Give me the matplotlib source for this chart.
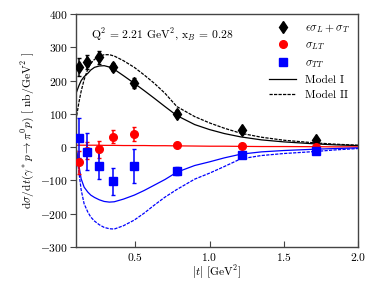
import matplotlib
matplotlib.use("Agg")
import matplotlib.pyplot as plt
from matplotlib.lines import Line2D

plt.rcParams['font.family'] = 'serif'
plt.rcParams['font.serif'] = ['cmr10']
plt.rcParams['mathtext.fontset'] = 'cm'
plt.rcParams['axes.formatter.use_mathtext'] = True
plt.rcParams['axes.unicode_minus'] = True

# data points
t_data = [0.123, 0.173, 0.253, 0.352, 0.491, 0.782, 1.22, 1.72]
sig_ul = [242, 256, 270, 242, 192, 101, 51, 21]
sig_ul_err = [27, 20, 20, 12, 15, 10, 10, 8]
sig_lt = [-45, -10, -6, 32, 40, 7, 5, 2]
sig_lt_err = [35, 25, 25, 19, 22, 3, 3, 3]
sig_tt = [29, -13, -55, -103, -57, -71, -24, -11]
sig_tt_err = [60, 55, 40, 40, 52, 12, 5, 5]

# model curves
t_curve = [0.105, 0.12, 0.135, 0.155, 0.18, 0.20, 0.225, 0.257, 0.29, 0.325, 0.358, 0.42, 0.493,
           0.56, 0.628, 0.70, 0.78, 0.90, 1.0, 1.1, 1.21, 1.35, 1.5, 1.71, 1.85, 2.0]
m1_ul = [167, 185, 200, 212, 222, 232, 240, 244, 245, 241, 234, 215, 192,
         170, 147, 122, 95, 68, 53, 41, 31, 22, 16, 10, 7, 5]
m2_ul = [95, 135, 168, 203, 235, 252, 264, 273, 278, 278, 274, 260, 240,
         217, 192, 162, 122, 92, 73, 57, 42, 30, 21, 13, 9, 6]
m1_lt = [6, 6, 6, 6, 6, 6, 6, 6, 5.5, 5.5, 5.5, 5, 5,
         5, 4.5, 4.5, 4, 3.5, 3, 3, 2.5, 2, 2, 1.5, 1, 1]
m1_tt = [-10, -55, -95, -120, -135, -144, -151, -158, -163, -165, -164, -156, -144,
         -130, -114, -97, -75, -55, -44, -32, -21, -14, -10, -6, -4, -2]
m2_tt = [-15, -75, -128, -170, -195, -210, -222, -233, -241, -245, -246, -236, -219,
         -198, -174, -150, -127, -96, -78, -58, -35, -25, -19, -13, -8, -4]

labels = [r'$\epsilon\sigma_L+\sigma_T$', r'$\sigma_{LT}$', r'$\sigma_{TT}$', 'Model I', 'Model II']

fs = 8.3
fig = plt.figure(figsize=(3.76, 2.82), dpi=100)
ax = fig.add_axes([0.202, 0.124, 0.750, 0.826])

lw = 0.9
dash = (0, (2.6, 1.0))
ax.plot(t_curve, m1_ul, color='black', lw=lw)
ax.plot(t_curve, m2_ul, color='black', lw=lw, ls=dash)
ax.plot(t_curve, m1_lt, color='red', lw=lw)
ax.plot(t_curve, m1_tt, color='blue', lw=lw)
ax.plot(t_curve, m2_tt, color='blue', lw=lw, ls=dash)

ekw = dict(capsize=1.5, elinewidth=1.1, capthick=1.0, zorder=5)
ax.errorbar(t_data, sig_ul, yerr=sig_ul_err, fmt='d', color='black', ms=6.5, **ekw)
ax.errorbar(t_data, sig_lt, yerr=sig_lt_err, fmt='o', color='red', ms=5.5, **ekw)
ax.errorbar(t_data, sig_tt, yerr=sig_tt_err, fmt='s', color='blue', ms=5.5, **ekw)

ax.set_xlim(0.1, 2.0)
ax.set_ylim(-300, 400)
ax.set_xticks([0.5, 1.0, 1.5, 2.0])
ax.set_yticks([-300, -200, -100, 0, 100, 200, 300, 400])
ax.tick_params(axis='x', direction='in', labelsize=fs, length=4, width=0.8, color='#444444', pad=3)
ax.tick_params(axis='y', direction='out', labelsize=fs, length=4, width=0.8, color='#444444', pad=2)
for s in ax.spines.values():
    s.set_color('#444444')
    s.set_linewidth(1.0)

ax.set_xlabel(r'$|t|$ [GeV$^2$]', fontsize=fs, labelpad=0)
ax.set_ylabel(r'd$\sigma$/d$t$($\gamma^*p\rightarrow\pi^0p$) [ nb/GeV$^2$ ]', fontsize=fs, labelpad=2)

ax.text(0.055, 0.91, r'Q$^2$ = 2.21 GeV$^2$, x$_B$ = 0.28', transform=ax.transAxes,
        fontsize=fs, va='center')

handles = [
    Line2D([], [], ls='none', marker='d', color='black', ms=6.5),
    Line2D([], [], ls='none', marker='o', color='red', ms=5.5),
    Line2D([], [], ls='none', marker='s', color='blue', ms=5.5),
    Line2D([], [], color='black', lw=lw),
    Line2D([], [], color='black', lw=lw, ls=dash),
]
ax.legend(handles, labels, loc='upper right', frameon=False, fontsize=fs,
          handlelength=2.3, labelspacing=0.45, borderaxespad=0.3, handletextpad=0.8)

fig.savefig('out.png', dpi=100)
